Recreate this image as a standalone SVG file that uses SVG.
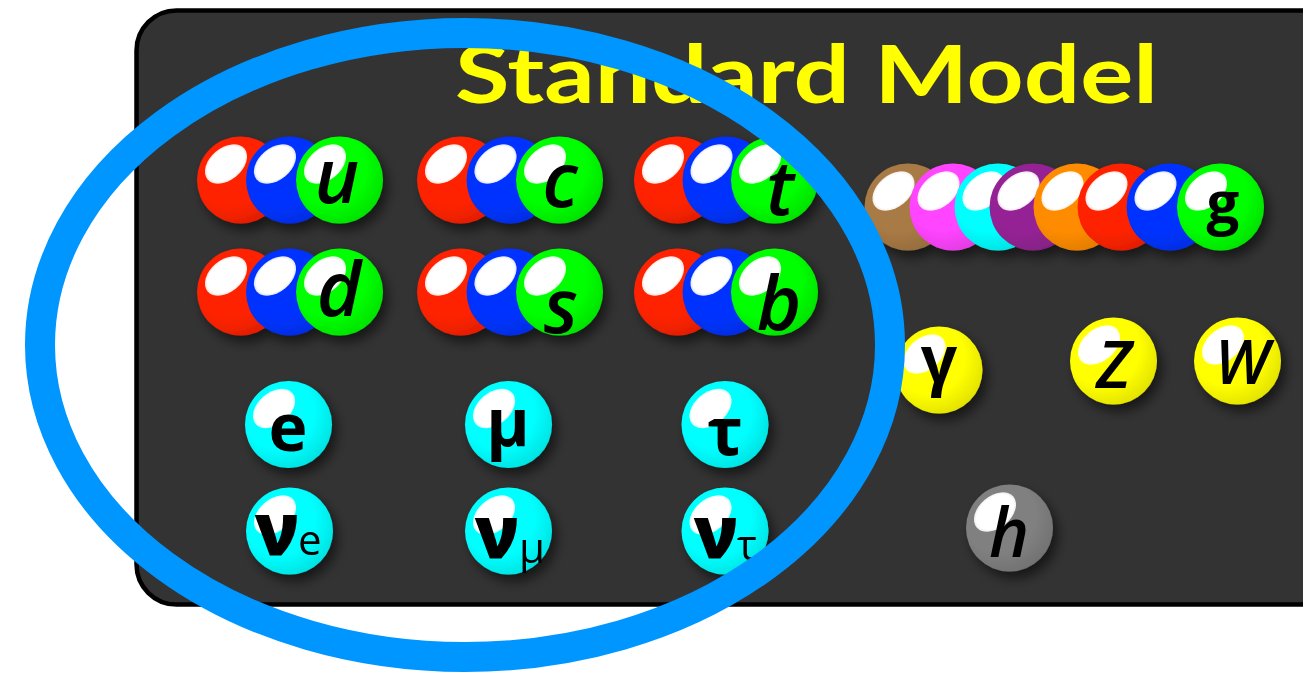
<svg xmlns="http://www.w3.org/2000/svg" xmlns:xlink="http://www.w3.org/1999/xlink" width="1303" height="679" viewBox="0 0 1303 679">
  <style>
    .title { font-family: "Lato", "Open Sans", sans-serif; font-weight: 700; font-size: 80px; fill: #FFFF00; }
    .q { font-family: "Open Sans", "DejaVu Sans", sans-serif; font-style: italic; font-weight: 600; font-size: 76px; fill: #000; text-anchor: middle; }
    .l { font-family: "Open Sans", "DejaVu Sans", sans-serif; font-weight: 700; font-size: 66px; fill: #000; text-anchor: middle; }
    .nu { font-family: "Open Sans", "DejaVu Sans", sans-serif; font-weight: 800; font-size: 72px; fill: #000; text-anchor: middle; }
    .sub { font-family: "Open Sans", "DejaVu Sans", sans-serif; font-weight: 400; font-size: 42px; fill: #000; }
    .b { font-family: "Open Sans", "DejaVu Sans", sans-serif; font-style: italic; font-weight: 600; font-size: 66px; fill: #000; text-anchor: middle; }
    .node { filter: url(#drop); }
  </style>
  <defs>
    <radialGradient id="shade" cx="0.38" cy="0.36" r="0.7">
      <stop offset="0.6" stop-color="#000" stop-opacity="0"/>
      <stop offset="1" stop-color="#000" stop-opacity="0.12"/>
    </radialGradient>
    <radialGradient id="gloss" cx="0.5" cy="0.5" r="0.5">
      <stop offset="0.88" stop-color="#fff" stop-opacity="1"/>
      <stop offset="1" stop-color="#fff" stop-opacity="0.85"/>
    </radialGradient>
    <filter id="drop" x="-30%" y="-30%" width="170%" height="170%">
      <feGaussianBlur in="SourceAlpha" stdDeviation="6"/>
      <feOffset dx="5" dy="7" result="blur"/>
      <feFlood flood-color="#000" flood-opacity="0.55"/>
      <feComposite in2="blur" operator="in"/>
      <feMerge>
        <feMergeNode/>
        <feMergeNode in="SourceGraphic"/>
      </feMerge>
    </filter>
    <!-- one glossy sphere; its body colour comes from the fill of the <use> -->
    <g id="orb">
      <circle r="43.5"/>
      <circle r="43.5" fill="url(#shade)"/>
      <ellipse cx="-14.5" cy="-16" rx="24" ry="16" fill="url(#gloss)" transform="rotate(-40 -14.5 -16)"/>
    </g>
  </defs>

  <rect width="1303" height="679" fill="#FFFFFF"/>

  <!-- dark board -->
  <rect id="board" x="136.5" y="10.5" width="1320" height="594" rx="40" ry="40" fill="#333333" stroke="#000" stroke-width="4.5"/>

  <text id="title" class="title" x="455" y="103" textLength="703" lengthAdjust="spacingAndGlyphs">Standard Model</text>

  <!-- quarks -->
  <g id="quark-u" class="node">
    <use xlink:href="#orb" x="240.5" y="180" fill="#FF2200"/>
    <use xlink:href="#orb" x="289.5" y="180" fill="#0033FF"/>
    <use xlink:href="#orb" x="339.5" y="180" fill="#00FF00"/>
    <text class="q" x="337" y="203">u</text>
  </g>
  <g id="quark-c" class="node">
    <use xlink:href="#orb" x="460.5" y="180" fill="#FF2200"/>
    <use xlink:href="#orb" x="510" y="180" fill="#0033FF"/>
    <use xlink:href="#orb" x="559.5" y="180" fill="#00FF00"/>
    <text class="q" x="560" y="207">c</text>
  </g>
  <g id="quark-t" class="node">
    <use xlink:href="#orb" x="677.5" y="180" fill="#FF2200"/>
    <use xlink:href="#orb" x="726" y="180" fill="#0033FF"/>
    <use xlink:href="#orb" x="774.5" y="180" fill="#00FF00"/>
    <text class="q" x="780" y="215">t</text>
  </g>
  <g id="quark-d" class="node">
    <use xlink:href="#orb" x="240.5" y="292" fill="#FF2200"/>
    <use xlink:href="#orb" x="289.5" y="292" fill="#0033FF"/>
    <use xlink:href="#orb" x="339.5" y="292" fill="#00FF00"/>
    <text class="q" x="339" y="316">d</text>
  </g>
  <g id="quark-s" class="node">
    <use xlink:href="#orb" x="460.5" y="292" fill="#FF2200"/>
    <use xlink:href="#orb" x="510" y="292" fill="#0033FF"/>
    <use xlink:href="#orb" x="559.5" y="292" fill="#00FF00"/>
    <text class="q" x="561" y="333">s</text>
  </g>
  <g id="quark-b" class="node">
    <use xlink:href="#orb" x="677.5" y="292" fill="#FF2200"/>
    <use xlink:href="#orb" x="726" y="292" fill="#0033FF"/>
    <use xlink:href="#orb" x="774.5" y="292" fill="#00FF00"/>
    <text class="q" x="779" y="330">b</text>
  </g>

  <!-- leptons -->
  <g id="lepton-e" class="node">
    <use xlink:href="#orb" x="288.5" y="424.5" fill="#00FFFF"/>
    <text class="l" x="288" y="451">e</text>
  </g>
  <g id="lepton-mu" class="node">
    <use xlink:href="#orb" x="508.5" y="424.5" fill="#00FFFF"/>
    <text class="l" x="508" y="446">μ</text>
  </g>
  <g id="lepton-tau" class="node">
    <use xlink:href="#orb" x="725" y="424.5" fill="#00FFFF"/>
    <text class="l" x="725" y="455">τ</text>
  </g>
  <g id="neutrino-e" class="node">
    <use xlink:href="#orb" x="289.5" y="531" fill="#00FFFF"/>
    <text class="nu" x="277" y="555">ν</text>
    <text class="sub" x="298" y="555">e</text>
  </g>
  <g id="neutrino-mu" class="node">
    <use xlink:href="#orb" x="508.5" y="531" fill="#00FFFF"/>
    <text class="nu" x="497" y="558">ν</text>
    <text class="sub" x="519" y="563">μ</text>
  </g>
  <g id="neutrino-tau" class="node">
    <use xlink:href="#orb" x="725" y="531" fill="#00FFFF"/>
    <text class="nu" x="716" y="558">ν</text>
    <text class="sub" x="737" y="560">τ</text>
  </g>

  <!-- gluons -->
  <g id="gluon" class="node">
    <use xlink:href="#orb" x="908" y="207" fill="#A87A45"/>
    <use xlink:href="#orb" x="953" y="207" fill="#FF44FF"/>
    <use xlink:href="#orb" x="998" y="207" fill="#00FFFF"/>
    <use xlink:href="#orb" x="1033" y="207" fill="#952395"/>
    <use xlink:href="#orb" x="1077" y="207" fill="#FF8C00"/>
    <use xlink:href="#orb" x="1121" y="207" fill="#FF2200"/>
    <use xlink:href="#orb" x="1170" y="207" fill="#0033FF"/>
    <use xlink:href="#orb" x="1220.5" y="207" fill="#00FF00"/>
    <text class="l" x="1223" y="223" style="font-size:58px">g</text>
  </g>

  <!-- electroweak bosons and Higgs -->
  <g id="photon" class="node">
    <use xlink:href="#orb" x="939" y="370" fill="#FFFF00"/>
    <text class="l" x="939" y="382" style="font-size:64px">γ</text>
  </g>
  <g id="boson-z" class="node">
    <use xlink:href="#orb" x="1113.5" y="361" fill="#FFFF00"/>
    <text class="b" x="1114" y="388">Z</text>
  </g>
  <g id="boson-w" class="node">
    <use xlink:href="#orb" x="1237.5" y="361" fill="#FFFF00"/>
    <text class="b" x="1242" y="384" style="font-size:62px">W</text>
  </g>
  <g id="higgs" class="node">
    <use xlink:href="#orb" x="1009.5" y="528" fill="#808080"/>
    <text class="b" x="1009" y="557" style="font-size:68px">h</text>
  </g>

  <!-- ring round the fermions -->
  <g id="connectors">
    <ellipse id="fermion-ring" cx="465" cy="345" rx="425" ry="312" fill="none" stroke="#0096FF" stroke-width="30"/>
  </g>
</svg>
